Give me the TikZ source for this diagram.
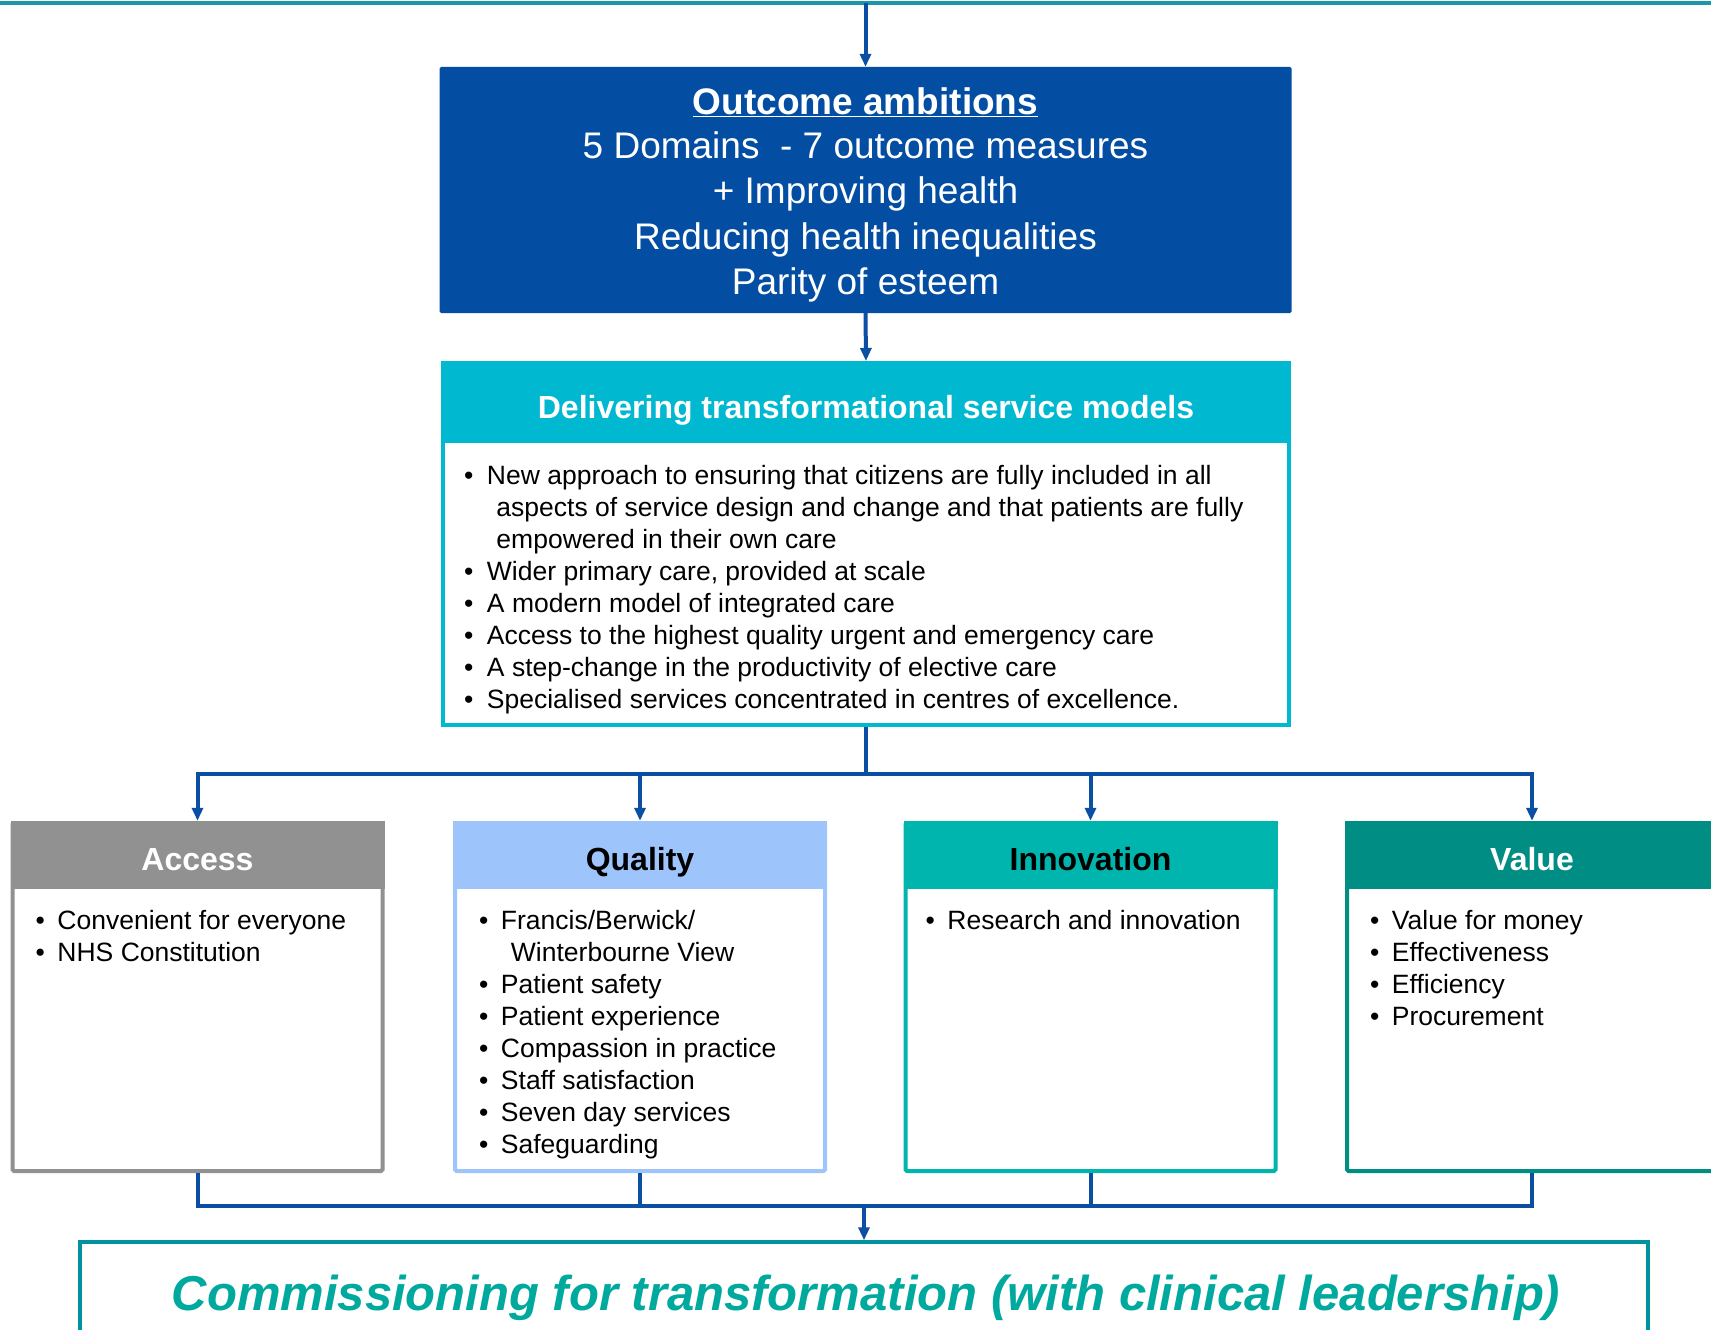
\documentclass[tikz,border=0pt]{standalone}
\usepackage{fontspec}
\setmainfont{Liberation Sans}
\usetikzlibrary{arrows.meta}
\definecolor{topteal}{HTML}{1A98A8}
\definecolor{nhsblue}{HTML}{034EA2}
\definecolor{connblue}{HTML}{0A4FA3}
\definecolor{cyanhd}{HTML}{00B8D0}
\definecolor{accgrey}{HTML}{919191}
\definecolor{qualblue}{HTML}{9EC5FB}
\definecolor{innteal}{HTML}{00B5AD}
\definecolor{valteal}{HTML}{008E84}
\definecolor{botborder}{HTML}{00929E}
\definecolor{bottext}{HTML}{00A99D}
\tikzset{
  conn/.style={draw=connblue, line width=4pt},
  arr/.style={conn, -{Triangle[length=13pt,width=11pt]}},
  colbox/.style={draw=#1, line width=4pt, fill=white, minimum width=370pt, minimum height=348pt, inner sep=0pt, rounded corners=1.5pt},
  colhead/.style={fill=#1, minimum width=374pt, minimum height=68pt, inner sep=0pt},
  coltitle/.style={anchor=base, inner sep=0pt, font=\fontsize{32}{38}\selectfont\bfseries},
  blist/.style={anchor=north west, inner sep=0pt, align=left, font=\fontsize{26.5}{32}\selectfont},
}
\newcommand{\bl}{\textbullet}
\begin{document}
\begin{tikzpicture}[x=1pt,y=-1pt]
\useasboundingbox (0,0) rectangle (1711,1330);
\clip (0,0) rectangle (1711,1330);
% top line
\coordinate (tl) at (0,3);
\coordinate (tr) at (1711,3);
\coordinate (top) at (865.5,3);
\draw[topteal, line width=3.5pt] (tl) -- (tr);

% outcome box
\node[fill=nhsblue, minimum width=852pt, minimum height=246pt, inner sep=0pt, rounded corners=1.5pt] (out) at (865.5,190) {};
\node[inner sep=0pt, text=white, align=center, font=\fontsize{37}{45}\selectfont] (outtxt) at (865.5,194.5)
  {\underline{\textbf{Outcome ambitions}}\\[-1pt]
   5 Domains \ - 7 outcome measures\\
   + Improving health\\[1pt]
   Reducing health inequalities\\
   Parity of esteem};

% delivering box
\node[draw=cyanhd, line width=4pt, fill=white, minimum width=846pt, minimum height=362pt, inner sep=0pt] (dbox) at (866,544) {};
\node[fill=cyanhd, minimum width=850pt, minimum height=82pt, inner sep=0pt] (dhead) at (866,402) {};
\node[coltitle, text=white] (dtitle) at (866,418) {Delivering transformational service models};
\node[blist] (dlist) at (464,462) {\begin{tabular}{@{}l@{\hspace{13.5pt}}l@{}}
\bl & New approach to ensuring that citizens are fully included in all\\
 & \hspace{9.5pt}aspects of service design and change and that patients are fully\\
 & \hspace{9.5pt}empowered in their own care\\
\bl & Wider primary care, provided at scale\\
\bl & A modern model of integrated care\\
\bl & Access to the highest quality urgent and emergency care\\
\bl & A step-change in the productivity of elective care\\
\bl & Specialised services concentrated in centres of excellence.
\end{tabular}};

% four boxes
\node[colbox=accgrey] (acc) at (197.5,997) {};
\node[colhead=accgrey] (acch) at (197.5,855) {};
\node[coltitle, text=white] (acct) at (197.5,870.5) {Access};
\node[colbox=qualblue] (qual) at (640,997) {};
\node[colhead=qualblue] (qualh) at (640,855) {};
\node[coltitle, text=black] (qualt) at (640,870.5) {Quality};
\node[colbox=innteal] (inn) at (1090.5,997) {};
\node[colhead=innteal] (innh) at (1090.5,855) {};
\node[coltitle, text=black] (innt) at (1090.5,870.5) {Innovation};
\node[colbox=valteal] (val) at (1532,997) {};
\node[colhead=valteal] (valh) at (1532,855) {};
\node[coltitle, text=white] (valt) at (1532,870.5) {Value};

\node[blist] (acclist) at (35.5,907) {\begin{tabular}{@{}l@{\hspace{12.5pt}}l@{}}
\bl & Convenient for everyone\\
\bl & NHS Constitution
\end{tabular}};
\node[blist] (quallist) at (479,907) {\begin{tabular}{@{}l@{\hspace{12.5pt}}l@{}}
\bl & Francis/Berwick/\\
 & \hspace{10pt}Winterbourne View\\
\bl & Patient safety\\
\bl & Patient experience\\
\bl & Compassion in practice\\
\bl & Staff satisfaction\\
\bl & Seven day services\\
\bl & Safeguarding
\end{tabular}};
\node[blist] (innlist) at (925.5,907) {\begin{tabular}{@{}l@{\hspace{12.5pt}}l@{}}
\bl & Research and innovation
\end{tabular}};
\node[blist] (vallist) at (1370,907) {\begin{tabular}{@{}l@{\hspace{12.5pt}}l@{}}
\bl & Value for money\\
\bl & Effectiveness\\
\bl & Efficiency\\
\bl & Procurement
\end{tabular}};

% bottom box
\node[draw=botborder, line width=3.5pt, minimum width=1568pt, minimum height=200pt, inner sep=0pt] (bot) at (864,1342) {};
\node[anchor=base, text=bottext, font=\fontsize{49}{56}\selectfont\bfseries\itshape, inner sep=0pt] (bottxt) at (866,1310)
  {Commissioning for transformation (with clinical leadership)};

% connectors
\draw[arr] (top) -- (out.north);
\draw[arr] (out.south) -- (dbox.north);
\coordinate (split) at (866,774);
\draw[conn] (dbox.south) -- (split);
\draw[arr] (split) -| (acch.north);
\draw[arr] (split) -| (qualh.north);
\draw[arr] (split) -| (innh.north);
\draw[arr] (split) -| (valh.north);
\coordinate (join) at (864,1206);
\draw[conn] (acc.south) |- (join);
\draw[conn] (qual.south) |- (join);
\draw[conn] (inn.south) |- (join);
\draw[conn] (val.south) |- (join);
\draw[arr] (join) -- (bot.north);
\end{tikzpicture}
\end{document}
